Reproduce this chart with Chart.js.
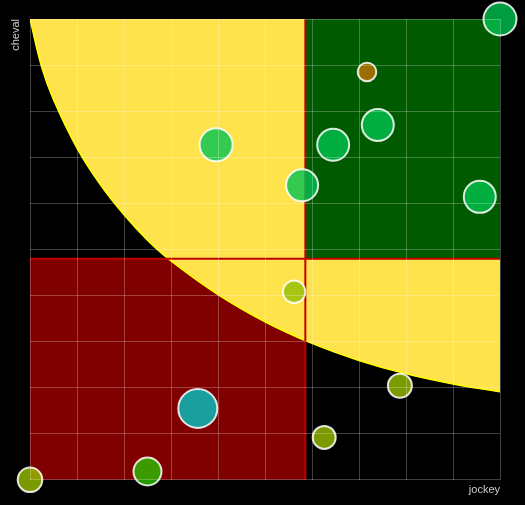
<!DOCTYPE html>
<html>
<head>
<meta charset="utf-8">
<script src="https://cdn.jsdelivr.net/npm/chart.js@4/dist/chart.umd.min.js"></script>
<style>
  html, body { margin: 0; padding: 0; background: #000; }
  canvas { display: block; }
</style>
</head>
<body>
<canvas id="quadChart" width="525" height="505"></canvas>
<script>
// Bubbles : jockey (x) / cheval (y) scores, bubble radius
const jockey = [100, 71.7, 74.0, 64.5, 39.6, 57.9, 95.7, 56.2, 78.7, 62.6, 35.7, 25.0, 0];
const cheval = [100, 88.5, 77.0, 72.7, 72.7, 63.9, 61.4, 40.8, 20.4, 9.2, 15.5, 1.8, 0];
const radius = [16.5, 9.3, 16, 16, 16.5, 16, 16, 11.2, 12, 11.5, 19.5, 14, 12.3];

const bubbleColors = [
  'rgba(0,195,80,0.8)', 'rgba(192,115,0,0.8)', 'rgba(0,195,80,0.8)', 'rgba(0,195,80,0.8)',
  'rgba(0,195,80,0.8)', 'rgba(0,195,80,0.8)', 'rgba(0,195,80,0.8)', 'rgba(146,189,6,0.8)',
  'rgba(152,192,0,0.8)', 'rgba(152,192,0,0.8)', 'rgba(0,198,198,0.8)', 'rgba(40,192,0,0.8)',
  'rgba(152,192,0,0.8)'
];

// Yellow zone boundary
const curveX = [0, 2.5, 5, 10, 15, 20, 25, 30, 40, 50, 60, 70, 80, 90, 100];
const curveY = [100, 89.5, 82.5, 72, 64, 57.5, 52, 47.5, 40.2, 34.3, 29.6, 25.9, 23, 20.8, 19.1];

// split lines = averages
const avg = arr => arr.reduce((s, v) => s + v, 0) / arr.length;
const meanJockey = avg(jockey);
const meanCheval = avg(cheval);

const quadrants = {
  id: 'quadrants',
  beforeDatasetsDraw(chart) {
    const { ctx, chartArea: a, scales: { x, y } } = chart;
    const mx = x.getPixelForValue(meanJockey);
    const my = y.getPixelForValue(meanCheval);
    ctx.save();
    ctx.fillStyle = '#800000';
    ctx.fillRect(a.left, my, mx - a.left, a.bottom - my);
    ctx.restore();
  },
  afterDatasetDraw(chart, args) {
    if (args.index !== 1) return;
    const { ctx, chartArea: a, scales: { x, y } } = chart;
    const mx = x.getPixelForValue(meanJockey);
    const my = y.getPixelForValue(meanCheval);
    ctx.save();
    ctx.fillStyle = '#005a00';
    ctx.fillRect(mx, a.top, a.right - mx, my - a.top);
    ctx.strokeStyle = '#c00000';
    ctx.lineWidth = 2;
    ctx.beginPath();
    ctx.moveTo(mx, a.top); ctx.lineTo(mx, a.bottom);
    ctx.moveTo(a.left, my); ctx.lineTo(a.right, my);
    ctx.stroke();
    ctx.restore();
  }
};

const gridColor = 'rgba(255,255,255,0.25)';
const titleFont = { family: '"Liberation Sans", Arial, sans-serif', size: 11 };

new Chart(document.getElementById('quadChart'), {
  type: 'bubble',
  data: {
    datasets: [
      {
        type: 'bubble',
        data: jockey.map((v, i) => ({ x: v, y: cheval[i], r: radius[i] })),
        backgroundColor: bubbleColors,
        borderColor: 'rgba(255,255,255,0.85)',
        borderWidth: 2,
        clip: false
      },
      {
        type: 'line',
        data: curveX.map((v, i) => ({ x: v, y: curveY[i] })),
        borderColor: '#ffff00',
        borderWidth: 1.5,
        backgroundColor: '#ffe34d',
        fill: 'end',
        pointRadius: 0,
        tension: 0.4
      }
    ]
  },
  options: {
    responsive: false,
    animation: false,
    layout: { autoPadding: false, padding: { top: 19, right: 25 } },
    plugins: { legend: { display: false }, tooltip: { enabled: false } },
    scales: {
      x: {
        type: 'linear', min: 0, max: 100,
        ticks: { display: false, stepSize: 10 },
        grid: { color: gridColor, z: 1, drawTicks: false },
        border: { display: false },
        title: { display: true, text: 'jockey', align: 'end', color: '#cccccc', font: titleFont, padding: { top: 4, bottom: 8 } }
      },
      y: {
        type: 'linear', min: 0, max: 100,
        ticks: { display: false, stepSize: 10 },
        grid: { color: gridColor, z: 1, drawTicks: false },
        border: { display: false },
        title: { display: true, text: 'cheval', align: 'end', color: '#cccccc', font: titleFont, padding: { top: 9, bottom: 7.8 } }
      }
    }
  },
  plugins: [quadrants]
});
</script>
</body>
</html>
